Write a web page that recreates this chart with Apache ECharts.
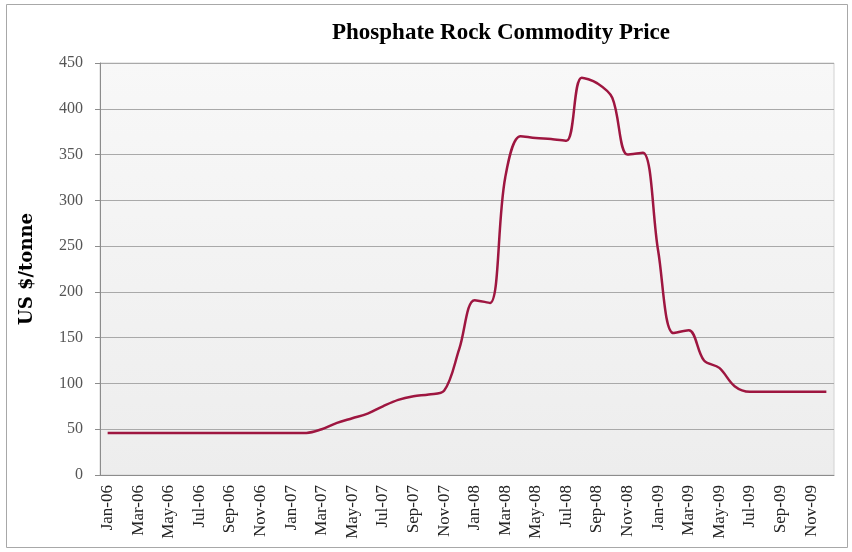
<!DOCTYPE html>
<html>
<head>
<meta charset="utf-8">
<title>Phosphate Rock Commodity Price</title>
<script src="https://cdn.jsdelivr.net/npm/echarts@6/dist/echarts.min.js"></script>
<style>
  html, body { margin: 0; padding: 0; background: #fff; }
  #main { width: 852px; height: 552px; }
</style>
</head>
<body>
<div id="main"></div>
<script>
// months Jan-06 .. Dec-09
var years = ['06', '07', '08', '09']
var monthNames = ['Jan', 'Feb', 'Mar', 'Apr', 'May', 'Jun', 'Jul', 'Aug', 'Sep', 'Oct', 'Nov', 'Dec']
var months = []
years.forEach(function (y) {
  monthNames.forEach(function (m) { months.push(m + '-' + y) })
})

// US $ per tonne
var price2006 = [46, 46, 46, 46, 46, 46, 46, 46, 46, 46, 46, 46]
var price2007 = [46, 46, 50, 57, 62, 67, 75, 82, 86, 88, 92, 138]
var price2008 = [191, 188, 325, 370, 368, 367, 365, 434, 428, 412, 350, 352]
var price2009 = [245, 155, 158, 125, 117, 97, 91, 91, 91, 91, 91, 91]
var prices = price2006.concat(price2007, price2008, price2009)

var yTicks = { min: 0, max: 450, step: 50 }

var chart = echarts.init(document.getElementById('main'))

var serif = '"Liberation Serif", "DejaVu Serif", serif'

var option = {
  animation: false,
  backgroundColor: '#fff',
  title: {
    text: 'Phosphate Rock Commodity Price',
    left: 496,
    textAlign: 'center',
    top: 17,
    textStyle: {
      fontFamily: serif,
      fontSize: 23,
      fontWeight: 'bold',
      color: '#000'
    }
  },
  graphic: [{
    type: 'rect',
    shape: { x: 6.5, y: 4.5, width: 841, height: 543 },
    style: { fill: 'none', stroke: '#a8a8a8', lineWidth: 1 },
    silent: true
  }],
  grid: {
    left: 100,
    right: 18,
    top: 63,
    bottom: 77,
    show: true,
    borderWidth: 1,
    borderColor: '#d2d2d2',
    backgroundColor: {
      type: 'linear', x: 0, y: 0, x2: 0, y2: 1,
      colorStops: [
        { offset: 0, color: '#f8f8f8' },
        { offset: 1, color: '#ededed' }
      ]
    }
  },
  xAxis: {
    type: 'category',
    data: months,
    boundaryGap: true,
    axisLine: { lineStyle: { color: '#8c8c8c', width: 1 } },
    axisTick: { interval: 1, length: 5, lineStyle: { color: '#8c8c8c' } },
    axisLabel: {
      interval: 1,
      rotate: 90,
      margin: 10,
      fontFamily: serif,
      fontSize: 17,
      color: '#222'
    }
  },
  yAxis: {
    type: 'value',
    min: yTicks.min,
    max: yTicks.max,
    interval: yTicks.step,
    name: 'US $/tonne',
    nameLocation: 'middle',
    nameGap: 64,
    nameRotate: 90,
    nameTextStyle: {
      fontFamily: '"DejaVu Serif", serif',
      fontSize: 18,
      fontWeight: 'bold',
      color: '#000'
    },
    axisLine: { show: true, lineStyle: { color: '#8c8c8c', width: 1 } },
    axisTick: { show: true, length: 5, lineStyle: { color: '#8c8c8c' } },
    axisLabel: {
      margin: 17,
      fontFamily: serif,
      fontSize: 16,
      color: '#555'
    },
    splitLine: { lineStyle: { color: '#a9a9a9', width: 1 } }
  },
  series: [{
    name: 'Phosphate rock',
    type: 'line',
    data: prices,
    smooth: 0.35,
    symbol: 'none',
    lineStyle: { color: '#9e1640', width: 2.5 },
    itemStyle: { color: '#9e1640' }
  }]
}

chart.setOption(option)
</script>
</body>
</html>
